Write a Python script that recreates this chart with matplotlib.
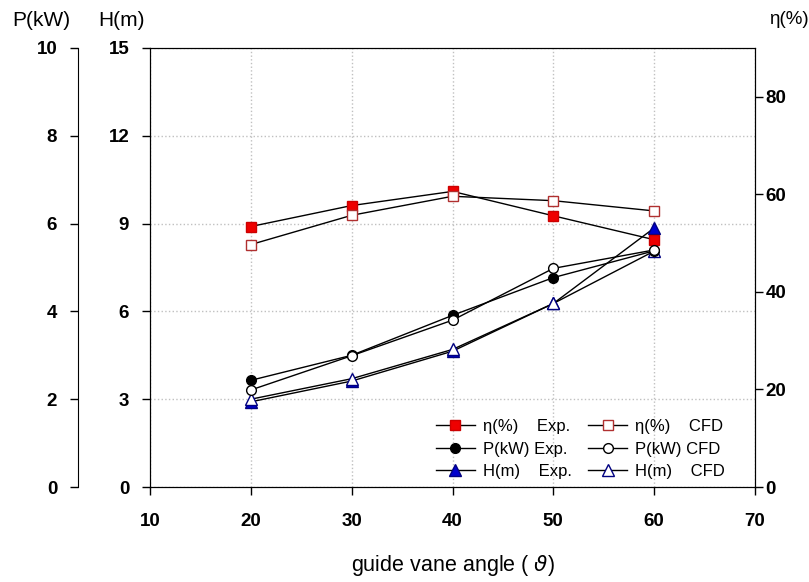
import matplotlib.pyplot as plt
from matplotlib.lines import Line2D

plt.rcParams['font.family'] = ['Liberation Sans', 'DejaVu Sans']

# guide vane angle
angle = [20, 30, 40, 50, 60]

# efficiency (%)
eta_exp = [53.4, 57.7, 60.6, 55.6, 50.7]
eta_cfd = [49.7, 55.7, 59.6, 58.7, 56.6]

# power (kW)
p_exp = [2.43, 3.0, 3.91, 4.77, 5.38]
p_cfd = [2.21, 2.99, 3.80, 4.98, 5.40]

# head (m)
h_exp = [2.91, 3.62, 4.64, 6.27, 8.85]
h_cfd = [3.0, 3.70, 4.70, 6.27, 8.06]

x_ticks = [10, 20, 30, 40, 50, 60, 70]
h_ticks = [0, 3, 6, 9, 12, 15]
p_ticks = [0, 2, 4, 6, 8, 10]
eta_ticks = [0, 20, 40, 60, 80]

fig = plt.figure(figsize=(8.09, 5.82), dpi=100)
ax = fig.add_axes([150/809, 95/582, 605/809, 439/582])

tick_font = dict(fontsize=13.5, fontweight='bold')

# H axis (main)
ax.plot(angle, h_exp, '-', color='black', lw=1, marker='^', ms=8,
        mfc='#0000cc', mec='#000080', zorder=3)
ax.plot(angle, h_cfd, '-', color='black', lw=1, marker='^', ms=8,
        mfc='white', mec='#000080', zorder=3)
ax.set_xlim(10, 70)
ax.set_ylim(0, 15)
ax.set_xticks(x_ticks)
ax.set_yticks(h_ticks)
ax.set_xticklabels([str(v) for v in x_ticks], **tick_font)
ax.set_yticklabels([str(v) for v in h_ticks], **tick_font)
ax.tick_params(direction='out', length=6, width=1, pad=9)
ax.tick_params(axis='x', pad=13)
ax.grid(True, linestyle=':', color='#c0c0c0', lw=1)
ax.set_xlabel(r'guide vane angle ( $\vartheta$)', fontsize=15.5, labelpad=16)

# eta axis (right)
ax_e = ax.twinx()
ax_e.plot(angle, eta_exp, '-', color='black', lw=1, marker='s', ms=7,
          mfc='#ee0000', mec='#cc0000', zorder=3)
ax_e.plot(angle, eta_cfd, '-', color='black', lw=1, marker='s', ms=7,
          mfc='white', mec='#b03030', zorder=3)
ax_e.set_ylim(0, 90)
ax_e.set_yticks(eta_ticks)
ax_e.set_yticklabels([str(v) for v in eta_ticks], **tick_font)
ax_e.tick_params(direction='out', length=6, width=1, pad=1.5)

# P axis (outer left)
ax_p = ax.twinx()
ax_p.plot(angle, p_exp, '-', color='black', lw=1, marker='o', ms=7,
          mfc='black', mec='black', zorder=3)
ax_p.plot(angle, p_cfd, '-', color='black', lw=1, marker='o', ms=7,
          mfc='white', mec='black', zorder=3)
ax_p.set_ylim(0, 10)
ax_p.yaxis.set_ticks_position('left')
ax_p.spines['left'].set_position(('outward', 72 * 0.72))
for s in ['right', 'top', 'bottom']:
    ax_p.spines[s].set_visible(False)
ax_p.set_yticks(p_ticks)
ax_p.set_yticklabels([str(v) for v in p_ticks], **tick_font)
ax_p.tick_params(direction='out', length=6, width=1, pad=9)

# axis titles on top
fig.text(41/809, 1 - 20/582, 'P(kW)', ha='center', va='center', fontsize=15)
fig.text(122/809, 1 - 20/582, 'H(m)', ha='center', va='center', fontsize=15)
fig.text(789/809, 1 - 20/582, 'η(%)', ha='center', va='center', fontsize=13.5)

# legend
handles = [
    Line2D([], [], color='black', lw=1, marker='s', ms=7, mfc='#ee0000', mec='#cc0000'),
    Line2D([], [], color='black', lw=1, marker='o', ms=7, mfc='black', mec='black'),
    Line2D([], [], color='black', lw=1, marker='^', ms=8, mfc='#0000cc', mec='#000080'),
    Line2D([], [], color='black', lw=1, marker='s', ms=7, mfc='white', mec='#b03030'),
    Line2D([], [], color='black', lw=1, marker='o', ms=7, mfc='white', mec='black'),
    Line2D([], [], color='black', lw=1, marker='^', ms=8, mfc='white', mec='#000080'),
]
labels = ['η(%)    Exp.', 'P(kW) Exp.', 'H(m)    Exp.',
          'η(%)    CFD', 'P(kW) CFD', 'H(m)    CFD']
ax_p.legend(handles, labels, ncol=2, frameon=False, fontsize=12,
            loc='lower right', bbox_to_anchor=(0.975, -0.016),
            handlelength=2.3, handletextpad=0.5, columnspacing=1.0,
            labelspacing=0.45)

fig.savefig('out.png', dpi=100)
